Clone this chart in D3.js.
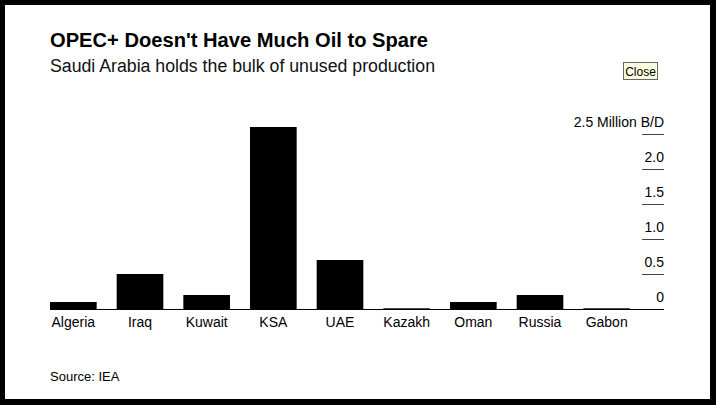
<!DOCTYPE html>
<html>
<head>
  <meta charset="utf-8">
  <script src="https://d3js.org/d3.v7.min.js"></script>
  <style>
    body { margin: 0; background: #000; }
    svg { display: block; font-family: "Liberation Sans", Arial, sans-serif; }
  </style>
</head>
<body>
  <script type="text/javascript">
    /* chart data */
    var countries = ["Algeria", "Iraq", "Kuwait", "KSA", "UAE", "Kazakh", "Oman", "Russia", "Gabon"];
    var spare = [0.1, 0.5, 0.2, 2.6, 0.7, 0.01, 0.1, 0.2, 0.01];
    var yTicks = [0, 0.5, 1.0, 1.5, 2.0, 2.5];
    var yTickLabels = ["0", "0.5", "1.0", "1.5", "2.0", "2.5 Million B/D"];

    var width = 716, height = 405;

    var svg = d3.select("body")
      .append("svg")
      .attr("width", width)
      .attr("height", height);

    // black frame, white panel
    svg.append("rect").attr("width", width).attr("height", height).attr("fill", "#000");
    svg.append("rect")
      .attr("x", 5).attr("y", 5)
      .attr("width", 705).attr("height", 394)
      .attr("fill", "#fff");

    // headline + dek
    svg.append("text")
      .attr("x", 50).attr("y", 47)
      .attr("font-size", 20).attr("font-weight", "bold")
      .attr("textLength", 378).attr("lengthAdjust", "spacingAndGlyphs")
      .text("OPEC+ Doesn't Have Much Oil to Spare");

    svg.append("text")
      .attr("x", 50).attr("y", 72)
      .attr("font-size", 18)
      .attr("fill", "#111")
      .attr("textLength", 385).attr("lengthAdjust", "spacingAndGlyphs")
      .text("Saudi Arabia holds the bulk of unused production");

    // close button
    var btn = svg.append("g").attr("transform", "translate(623.5,62.5)");
    btn.append("rect")
      .attr("width", 34).attr("height", 17)
      .attr("fill", "#ffffe1").attr("stroke", "#666");
    btn.append("text")
      .attr("x", 17).attr("y", 13)
      .attr("text-anchor", "middle")
      .attr("font-size", 12)
      .text("Close");

    // scales
    var x = d3.scaleBand()
      .domain(countries)
      .range([50, 630])
      .paddingInner(0.3)
      .paddingOuter(0);

    var y = d3.scaleLinear()
      .domain([0, 2.5])
      .range([309, 134]);

    // bars
    svg.append("g")
      .selectAll("rect")
      .data(countries)
      .enter()
      .append("rect")
      .attr("x", function(d) { return x(d); })
      .attr("width", x.bandwidth())
      .attr("y", function(d, i) { return y(spare[i]); })
      .attr("height", function(d, i) { return y(0) - y(spare[i]); })
      .attr("fill", "#000");

    // y axis on the right, labels sitting above short tick lines
    var yAxis = svg.append("g")
      .attr("transform", "translate(664,0)")
      .call(d3.axisLeft(y)
        .tickValues(yTicks)
        .tickSize(22)
        .tickPadding(0)
        .tickFormat(function(d, i) { return yTickLabels[i]; }));
    yAxis.select(".domain").remove();
    yAxis.selectAll("line").attr("stroke", "#444");
    yAxis.selectAll("text")
      .attr("x", 0)
      .attr("dy", "-8")
      .attr("text-anchor", "end")
      .attr("font-size", 14)
      .attr("font-family", "Liberation Sans, Arial, sans-serif")
      .attr("fill", "#000");

    // x axis
    var xAxis = svg.append("g")
      .attr("transform", "translate(0,309)")
      .call(d3.axisBottom(x).tickSize(0).tickPadding(0));
    xAxis.select(".domain").remove();
    xAxis.selectAll("text")
      .attr("y", 18)
      .attr("dy", "0")
      .attr("font-size", 14)
      .attr("font-family", "Liberation Sans, Arial, sans-serif")
      .attr("fill", "#000");

    svg.append("line")
      .attr("x1", 50).attr("x2", 664)
      .attr("y1", 309.5).attr("y2", 309.5)
      .attr("stroke", "#000");

    // source
    svg.append("text")
      .attr("x", 50).attr("y", 381)
      .attr("font-size", 13)
      .text("Source: IEA");
  </script>
</body>
</html>
